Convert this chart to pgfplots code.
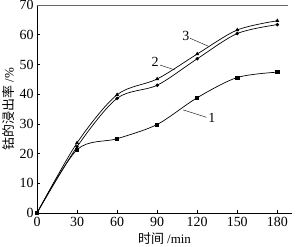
\documentclass[border=0pt]{standalone}
\usepackage{pgfplots}
\pgfplotsset{compat=1.18}
\usepackage{fontspec}
\setmainfont{Liberation Serif}
\newfontfamily\cjk{Noto Sans CJK SC}
\begin{document}
\begin{tikzpicture}
\begin{axis}[
  at={(0,0)}, anchor=south west,
  scale only axis, width=255bp, height=208bp,
  xmin=0, xmax=191, ymin=0, ymax=70,
  axis lines=left,
  axis line style={-, line width=0.6pt},
  xtick={0,30,60,90,120,150,180},
  ytick={0,10,20,30,40,50,60,70},
  tick align=inside, major tick length=3bp,
  tick style={black, line width=0.5pt},
  ticklabel style={font=\fontsize{14}{14}\selectfont},
  xticklabel style={yshift=-1bp},
  /pgf/number format/assume math mode=true,
  xlabel={{\cjk 时间} /min},
  ylabel={{\cjk 钴的浸出率} /\%},
  label style={font=\fontsize{13}{13}\selectfont},
  xlabel style={yshift=1bp},
  ylabel style={yshift=-2bp},
  clip=false,
]
\draw[line width=0.8pt, black!60] (rel axis cs:0,1) -- (rel axis cs:0.985,1);
\addplot[black, line width=0.7pt, smooth, mark=square*, mark size=1.6pt] coordinates {
 (0,0) (30,21.3) (60,25.0) (90,29.8) (120,38.8) (150,45.6) (180,47.4)};
\addplot[black, line width=0.7pt, smooth, mark=*, mark size=1.4pt] coordinates {
 (0,0) (30,22.3) (60,38.6) (90,43.0) (120,51.9) (150,60.4) (180,63.4)};
\addplot[black, line width=0.7pt, smooth, mark=triangle*, mark size=1.6pt] coordinates {
 (0,0) (30,23.6) (60,39.8) (90,45.1) (120,53.5) (150,61.6) (180,64.7)};
\draw[line width=0.4pt] (axis cs:109.5,34.7) -- (axis cs:127,32.2);
\node[font=\fontsize{14}{14}\selectfont] at (axis cs:131,31.9) {1};
\draw[line width=0.4pt] (axis cs:92.2,49.8) -- (axis cs:103.5,48.1);
\node[font=\fontsize{14}{14}\selectfont] at (axis cs:88.5,50.9) {2};
\draw[line width=0.4pt] (axis cs:114.7,58.8) -- (axis cs:128.5,56.1);
\node[font=\fontsize{14}{14}\selectfont] at (axis cs:111.5,59.6) {3};
\end{axis}
\pgfresetboundingbox
\path (-37bp,-34bp) rectangle (259bp,213bp);
\end{tikzpicture}
\end{document}
